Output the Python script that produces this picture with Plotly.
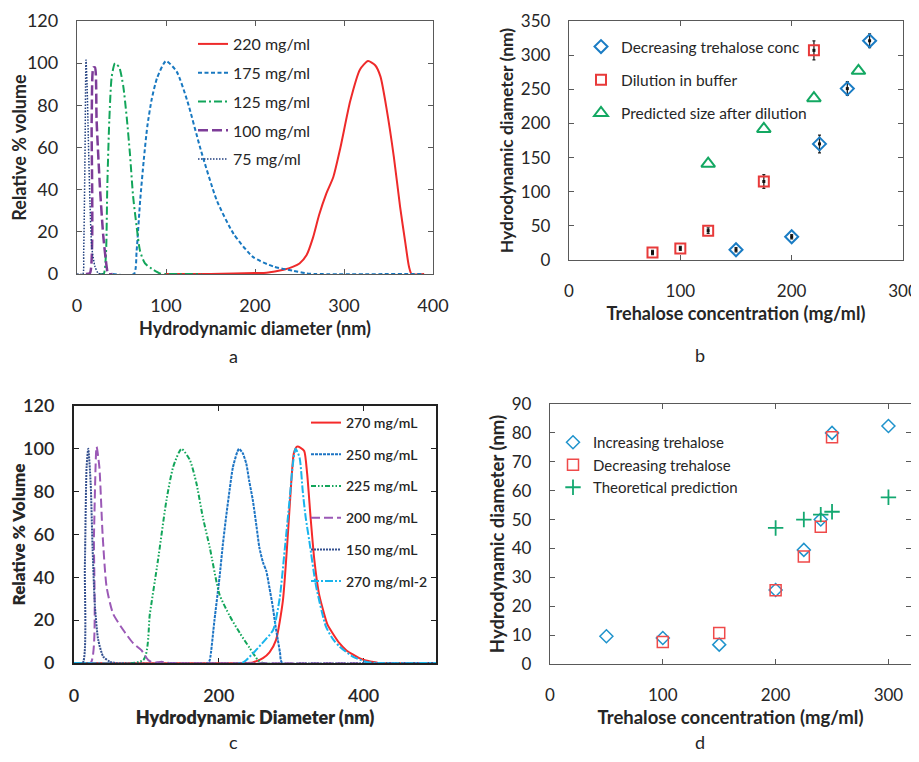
import plotly.graph_objects as go

# ---- panel a: DLS size distributions (relative % volume vs diameter) ----
a_220_x = [100, 150, 176, 200, 213, 232, 243, 250, 258, 265, 272, 280, 288, 296, 307, 318, 327, 335, 341, 348, 356, 363, 369, 373, 376, 390]
a_220_y = [0, 0, 0.2, 0.5, 0.6, 2, 3.5, 5, 9, 17, 28, 38, 46, 60, 82, 97, 101, 99, 93.6, 78, 55.6, 32, 14.5, 3.5, 0, 0]
a_175_x = [40, 64, 67, 71, 75, 79, 84, 90, 100, 112, 124, 139, 157, 176, 198, 221, 243, 258, 268, 390]
a_175_y = [0, 0, 11, 35, 54, 70, 83, 93, 101, 96, 82, 59, 35, 19, 8, 3.5, 1.5, 0.3, 0, 0]
a_125_x = [25, 30, 32.6, 34, 36.3, 39, 42.7, 47.5, 52, 55.8, 59.5, 63, 67, 70.8, 76.4, 85.7, 93, 100, 140]
a_125_y = [0, 0, 10, 41, 73, 93.6, 100, 98, 89, 74.6, 57, 37, 22.5, 11, 5, 2, 0.3, 0, 0]
a_100_x = [10, 14.6, 16.5, 18.4, 20.2, 22, 25.8, 29.6, 33.3, 35, 40]
a_100_y = [0, 0.5, 73, 98, 98, 73, 41, 17.7, 3.5, 0, 0]
a_75_x = [0, 6.5, 7.5, 9, 10.1, 11.3, 12.7, 14.6, 16.5, 20.2, 24, 30]
a_75_y = [0, 0, 10, 57, 101.5, 90, 65, 33.6, 13, 3.5, 0.3, 0]

# ---- panel b: size vs trehalose concentration ----
b_dec_x = [150, 200, 225, 250, 270]
b_dec_y = [15, 34, 170, 251, 321]
b_dec_err = [3, 3, 13, 10, 10]
b_dil_x = [75, 100, 125, 175, 220]
b_dil_y = [11, 17, 43, 115, 307]
b_dil_err = [3, 3, 4, 10, 14]
b_pred_x = [125, 175, 220, 260]
b_pred_y = [141, 192, 237, 277]

# ---- panel c: DLS size distributions ----
c_270_x = [0, 235, 247, 261, 270, 279, 288.5, 295.4, 300, 303.7, 308, 313, 318, 322, 327, 332, 338, 343, 350, 357, 366, 376, 385, 394, 403, 412, 420, 500]
c_270_y = [0, 0, 0.3, 2.3, 5, 10.7, 29, 60, 84, 98, 101, 100.5, 99, 88.5, 67, 48, 33, 26, 18, 14, 9.5, 6, 4, 2.3, 1.2, 0.6, 0, 0]
c_250_x = [0, 185, 187.5, 194, 201, 205.5, 210, 215, 219.6, 227.8, 233, 238, 242, 247, 252, 256, 261, 265.6, 270, 274.7, 278, 281.6, 284.5, 287.6, 500]
c_250_y = [0, 0, 1.4, 20, 40, 55, 68, 81, 91.6, 100, 98, 93, 85, 76, 64, 54, 47, 43, 35, 26, 18, 10.7, 5, 0, 0]
c_225_x = [0, 95.6, 104.8, 116, 127.7, 137, 148.4, 160, 169, 178, 187.5, 201, 215, 229, 242.6, 254, 261, 500]
c_225_y = [0, 1.4, 23, 48, 76, 91.6, 100, 94.8, 84, 68, 54, 32, 22, 14, 7, 1.4, 0, 0]
c_200_x = [0, 23, 27.6, 31.2, 35, 39.5, 45, 54, 68, 81.8, 93, 102.5, 110, 115, 121, 127, 135, 500]
c_200_y = [0, 0, 60, 101, 91.6, 60, 35.6, 23, 15.4, 9.2, 6, 1.4, 0, 0.3, 0.6, 0.2, 0, 0]
c_150_x = [0, 12, 15, 17.4, 19.7, 23, 25.7, 29, 33.5, 40.4, 49.6, 58, 500]
c_150_y = [0, 0, 45, 91.6, 100, 84, 53, 26, 10.7, 3, 0.6, 0, 0]
c_272_x = [0, 232, 238, 250, 262, 275, 284, 291, 297.7, 302, 306, 311.5, 316, 320, 325, 334.5, 348, 358, 367, 385, 403, 420, 500]
c_272_y = [0, 0, 1.4, 5.5, 10, 15.4, 30, 52.7, 76, 92, 100, 96, 80, 68, 57, 35.6, 17, 11, 7.6, 3, 0.6, 0, 0]

# ---- panel d: size vs trehalose concentration ----
d_inc_x = [50, 100, 150, 200, 225, 240, 250, 300]
d_inc_y = [9.6, 9, 6.7, 25.6, 39.5, 50, 80, 82.4]
d_dec_x = [100, 150, 200, 225, 240, 250]
d_dec_y = [7.6, 10.7, 25.5, 37.2, 47.5, 78.5]
d_th_x = [200, 225, 240, 250, 300]
d_th_y = [47.1, 50, 51.7, 52.7, 57.7]

# the page body keeps its default 8px margin, so the figure is shifted by it
OFF = 8
W, H = 919 - OFF, 762 - OFF
FONT = "Lato"
TXT = "#262626"


def px_x(p):
    return (p - OFF) / W


def px_y(p):
    return 1 - (p - OFF) / H


fig = go.Figure()


def curve(x, y, name, color, dash, width, xa, ya, legend, group):
    fig.add_trace(go.Scatter(
        x=x, y=y, name=name, mode="lines",
        line=dict(color=color, dash=dash, width=width, shape="spline", smoothing=0.6),
        xaxis=xa, yaxis=ya, legend=legend, legendgroup=group,
    ))


# panel a
curve(a_220_x, a_220_y, "220 mg/ml", "#ee2a2a", "solid", 2, "x", "y", "legend", "a1")
curve(a_175_x, a_175_y, "175 mg/ml", "#1878c0", "4px,2.5px", 2, "x", "y", "legend", "a2")
curve(a_125_x, a_125_y, "125 mg/ml", "#12a55a", "8px,3px,2px,3px", 2, "x", "y", "legend", "a3")
curve(a_100_x, a_100_y, "100 mg/ml", "#7d3c98", "10px,4px", 2.5, "x", "y", "legend", "a4")
curve(a_75_x, a_75_y, "75 mg/ml", "#203f7f", "1.5px,1.5px", 1.5, "x", "y", "legend", "a5")

# panel b
fig.add_trace(go.Scatter(
    x=b_dec_x, y=b_dec_y, name="Decreasing trehalose conc", mode="markers",
    marker=dict(symbol="diamond-open", size=10, color="#1a7cc4", line=dict(width=2)),
    error_y=dict(type="data", array=b_dec_err, color="#222", thickness=1.3, width=1.5),
    xaxis="x2", yaxis="y2", legend="legend2", legendgroup="b1",
))
fig.add_trace(go.Scatter(
    x=b_dil_x, y=b_dil_y, name="Dilution in buffer", mode="markers",
    marker=dict(symbol="square-open", size=10, color="#e83a3a", line=dict(width=2)),
    error_y=dict(type="data", array=b_dil_err, color="#222", thickness=1.3, width=1.5),
    xaxis="x2", yaxis="y2", legend="legend2", legendgroup="b2",
))
fig.add_trace(go.Scatter(
    x=b_pred_x, y=b_pred_y, name="Predicted size after dilution", mode="markers",
    marker=dict(symbol="triangle-up-open", size=12, color="#13a862", line=dict(width=2)),
    xaxis="x2", yaxis="y2", legend="legend2", legendgroup="b3",
))
fig.add_trace(go.Scatter(
    x=b_dec_x + b_dil_x, y=b_dec_y + b_dil_y, mode="markers", showlegend=False,
    marker=dict(symbol="square", size=3, color="#111"), hoverinfo="skip",
    xaxis="x2", yaxis="y2",
))

# panel c
curve(c_270_x, c_270_y, "270 mg/mL", "#f52a2a", "solid", 2, "x3", "y3", "legend3", "c1")
curve(c_250_x, c_250_y, "250 mg/mL", "#1c74c4", "3px,1px", 2, "x3", "y3", "legend3", "c2")
curve(c_225_x, c_225_y, "225 mg/mL", "#12a55a", "5px,2px,1.5px,2px,1.5px,2px", 2, "x3", "y3", "legend3", "c3")
curve(c_200_x, c_200_y, "200 mg/mL", "#9b59b6", "9px,4px", 2, "x3", "y3", "legend3", "c4")
curve(c_150_x, c_150_y, "150 mg/mL", "#34508f", "2px,1px", 2, "x3", "y3", "legend3", "c5")
curve(c_272_x, c_272_y, "270 mg/ml-2", "#19b4ec", "8px,2px,2px,2px", 2, "x3", "y3", "legend3", "c6")

# panel d
fig.add_trace(go.Scatter(
    x=d_inc_x, y=d_inc_y, name="Increasing trehalose", mode="markers",
    marker=dict(symbol="diamond-open", size=10, color="#1f93cc", line=dict(width=1.5)),
    xaxis="x4", yaxis="y4", legend="legend4", legendgroup="d1",
))
fig.add_trace(go.Scatter(
    x=d_dec_x, y=d_dec_y, name="Decreasing trehalose", mode="markers",
    marker=dict(symbol="square-open", size=11, color="#ef4a4a", line=dict(width=1.5)),
    xaxis="x4", yaxis="y4", legend="legend4", legendgroup="d2",
))
fig.add_trace(go.Scatter(
    x=d_th_x, y=d_th_y, name="Theoretical prediction", mode="markers",
    marker=dict(symbol="cross-thin-open", size=11, color="#13a870", line=dict(width=1.8)),
    xaxis="x4", yaxis="y4", legend="legend4", legendgroup="d3",
))


def xaxis(dom, rng, dtick, title, size, tsize, anchor, weight="bold", tweight="normal", lw=1.3, lc="#595959"):
    return dict(
        domain=[px_x(dom[0]), px_x(dom[1])], range=rng, dtick=dtick, anchor=anchor,
        showline=True, mirror="ticks", linecolor=lc, linewidth=lw, ticks="inside",
        ticklen=5, tickcolor=lc, showgrid=False, zeroline=False,
        tickfont=dict(family=FONT, size=tsize, color=TXT, weight=tweight),
        ticklabelstandoff=15, layer="below traces",
        title=dict(text=title, font=dict(family=FONT, size=size, color=TXT, weight=weight), standoff=7),
    )


def yaxis(dom, rng, dtick, title, size, tsize, anchor, weight="bold", tweight="normal", lw=1.3, lc="#595959", ts=4):
    return dict(
        domain=[px_y(dom[1]), px_y(dom[0])], range=rng, dtick=dtick, anchor=anchor,
        showline=True, mirror="ticks", linecolor=lc, linewidth=lw, ticks="inside",
        ticklen=5, tickcolor=lc, showgrid=False, zeroline=False,
        tickfont=dict(family=FONT, size=tsize, color=TXT, weight=tweight),
        ticklabelstandoff=14,
        title=dict(text=title, font=dict(family=FONT, size=size, color=TXT, weight=weight), standoff=ts),
    )


def legend(x, y, size, gap, weight="normal"):
    return dict(
        x=px_x(x), y=px_y(y), xanchor="left", yanchor="top", bgcolor="rgba(0,0,0,0)",
        font=dict(family=FONT, size=size, color=TXT, weight=weight),
        tracegroupgap=gap, traceorder="grouped", itemwidth=30,
    )


fig.update_layout(
    width=W, height=H, margin=dict(l=0, r=0, t=0, b=0, autoexpand=False),
    paper_bgcolor="white", plot_bgcolor="white",
    xaxis=xaxis((77, 433), [0, 400], 100, "Hydrodynamic diameter (nm)", 18, 18, "y"),
    yaxis=yaxis((21, 274), [0, 120], 20, "Relative % volume", 18, 18, "x", ts=8),
    xaxis2=xaxis((569, 903), [0, 300], 100, "Trehalose concentration (mg/ml)", 18, 17, "y2"),
    yaxis2=yaxis((21, 260), [0, 350], 50, "Hydrodynamic diameter (nm)", 17.5, 17, "x2", ts=2),
    xaxis3=xaxis((74, 436), [0, 500], 200, "Hydrodynamic Diameter (nm)", 18, 18, "y3",
                 weight=800, tweight=600, lw=2, lc="#222"),
    yaxis3=yaxis((406, 663), [0, 120], 20, "Relative % Volume", 17, 18, "x3",
                 weight=800, tweight=600, lw=2, lc="#222", ts=8),
    xaxis4=xaxis((550, 911), [0, 320], 100, "Trehalose concentration (mg/ml)", 18.5, 17, "y4"),
    yaxis4=yaxis((404, 664), [0, 90], 10, "Hydrodynamic diameter (nm)", 18.5, 17, "x4", ts=2),
    legend=legend(193, 27, 16, 5),
    legend2=legend(581, 30, 15.5, 10),
    legend3=legend(306, 407, 14, 10.5, weight=600),
    legend4=legend(553, 426, 15, 0),
    annotations=[
        dict(text=t, x=px_x(xp), y=px_y(yp), xref="paper", yref="paper", showarrow=False,
             font=dict(family=FONT, size=18, color=TXT))
        for t, xp, yp in [("a", 227, 356), ("b", 707, 355), ("c", 227, 755), ("d", 707, 755)]
    ],
)

fig.write_html("out.html")
